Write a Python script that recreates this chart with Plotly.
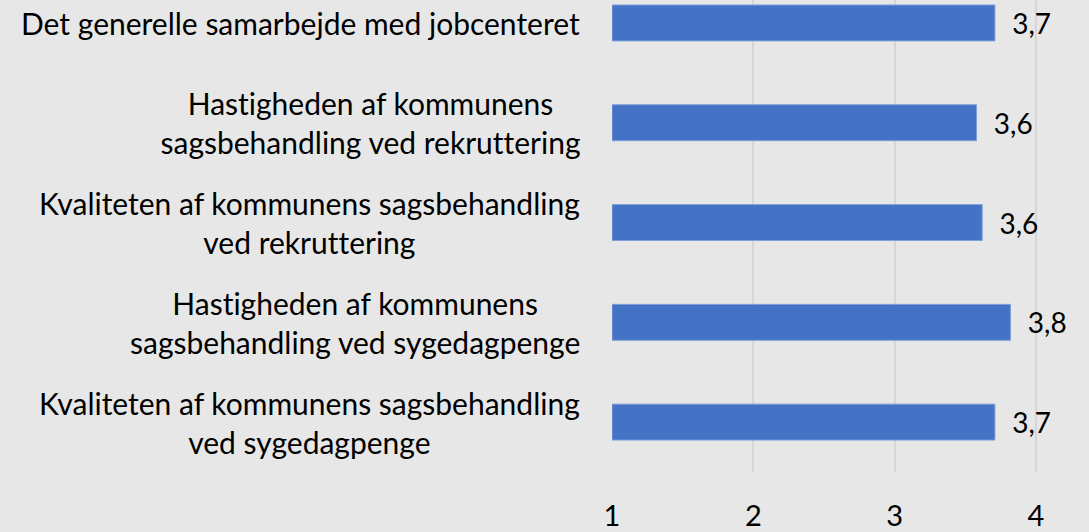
import plotly.graph_objects as go

categories = [
    "Kvaliteten af kommunens sagsbehandling<br>ved sygedagpenge",
    "Hastigheden af kommunens<br>sagsbehandling ved sygedagpenge",
    "Kvaliteten af kommunens sagsbehandling<br>ved rekruttering",
    "Hastigheden af kommunens<br>sagsbehandling ved rekruttering",
    "Det generelle samarbejde med jobcenteret",
]
values = [3.71, 3.82, 3.62, 3.58, 3.71]
value_labels = ["3,7", "3,8", "3,6", "3,6", "3,7"]
x_ticks = [1, 2, 3, 4]

FONT = "Lato"
BG = "#e7e7e7"

fig = go.Figure()
fig.add_trace(go.Bar(
    y=list(range(len(categories))),
    x=[v - 1 for v in values],
    base=1,
    orientation="h",
    marker=dict(color="#4472C4", line=dict(color="#7f9fd9", width=1)),
    text=["  " + t for t in value_labels],
    textposition="outside",
    textfont=dict(family=FONT, size=28, color="#000000"),
    cliponaxis=False,
    hoverinfo="skip",
))

for i, c in enumerate(categories):
    fig.add_annotation(
        x=0, xref="paper", y=i, yref="y",
        text=c, showarrow=False, xanchor="right", yanchor="middle",
        xshift=-30, align="center",
        font=dict(family=FONT, size=30, color="#000000"),
    )

fig.update_layout(
    width=1089, height=532,
    margin=dict(l=612, r=39, t=0, b=55),
    paper_bgcolor=BG, plot_bgcolor=BG,
    bargap=0.64,
    showlegend=False,
    xaxis=dict(
        range=[1, 4.1], tickvals=x_ticks, ticktext=[str(t) for t in x_ticks],
        showgrid=True, gridcolor="#d6d6d6", gridwidth=1.5,
        zeroline=False, showline=False,
        tickfont=dict(family=FONT, size=29, color="#000000"),
        ticklabelstandoff=24,
    ),
    yaxis=dict(
        range=[-0.5, 4.23], showticklabels=False, showgrid=False,
        zeroline=False, showline=False,
    ),
)

post = (
    "document.body.style.margin='0';"
    "document.body.style.background='%s';"
    "var s=document.createElement('style');"
    "s.textContent='text{font-variant-ligatures:none;font-feature-settings:\"liga\" 0;}';"
    "document.head.appendChild(s);" % BG
)

fig.write_html(
    "out.html",
    config={"displayModeBar": False},
    post_script=post,
)
